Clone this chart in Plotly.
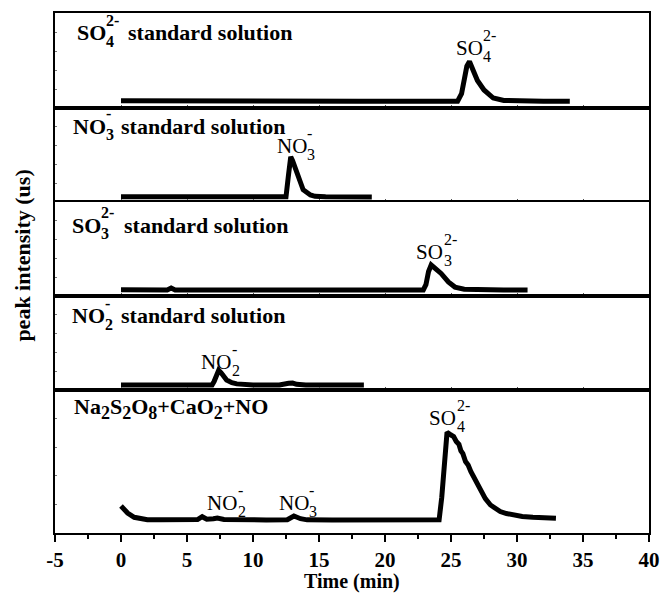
import plotly.graph_objects as go
from plotly.subplots import make_subplots

# ---- chromatogram traces (time in min, signal in relative units per panel) ----
so4_t = [0, 2, 4, 6, 6.3, 6.6, 8, 10, 14, 18, 22, 25.5, 25.8, 26.0, 26.2, 26.4,
         26.75, 27.0, 27.5, 28.2, 29.0, 30, 32, 34]
so4_y = [7.6, 7.4, 7.3, 7.3, 8.0, 7.3, 7.2, 7.2, 7.1, 7.1, 7.0, 7.2, 15, 32, 44, 49,
         37, 29, 19, 10.5, 8, 7.3, 7.1, 7.0]

no3_t = [0, 2, 4, 6, 8, 10, 12, 12.5, 12.7, 12.86, 13.0, 13.35, 13.8, 14.35, 14.7,
         15.5, 17, 19]
no3_y = [5.5, 5.4, 5.3, 5.3, 5.3, 5.2, 5.2, 5.6, 30, 48, 44, 31, 13, 7.5, 6.0,
         5.5, 5.3, 5.2]

so3_t = [0, 2, 3.5, 3.8, 4.1, 6, 10, 14, 18, 22, 22.9, 23.1, 23.3, 23.5, 23.8,
         24.25, 24.8, 25.3, 26.0, 27, 29, 30.8]
so3_y = [6.6, 6.5, 6.5, 8.5, 6.5, 6.4, 6.4, 6.3, 6.3, 6.3, 6.4, 12, 26, 33, 30,
         24, 15, 9.5, 7.2, 6.6, 6.4, 6.3]

no2_t = [0, 2, 4, 6, 6.9, 7.05, 7.25, 7.4, 7.6, 8.0, 8.4, 8.77, 10, 12, 12.7,
         13.0, 13.3, 14, 16, 18.4]
no2_y = [5.4, 5.3, 5.3, 5.3, 5.4, 9, 18, 21, 18, 10.6, 7.8, 6.5, 5.4, 5.3, 7.2,
         7.4, 6.0, 5.4, 5.3, 5.3]

mix_t = [0, 0.25, 0.5, 1.0, 1.5, 2.0, 3, 4, 5, 5.8, 6.15, 6.5, 7.0, 7.3, 7.8,
         9, 11, 12.6, 13.1, 13.6, 14.1, 16, 18, 20, 22, 24.1, 24.3, 24.5, 24.7,
         25.0, 25.2, 25.4, 25.6, 25.75, 25.9, 26.1, 26.3, 26.5, 26.9, 27.24,
         27.6, 27.99, 28.35, 28.73, 29.2, 29.72, 30.4, 31.2, 32.1, 32.95]
mix_y = [18.9, 16.5, 14, 11, 9.8, 9.3, 9.2, 9.2, 9.2, 9.4, 11.4, 9.6, 10.0, 10.5,
         9.5, 9.2, 9.1, 9.3, 11.9, 10.0, 9.2, 9.1, 9.1, 9.1, 9.1, 9.2, 25, 50, 70.5,
         68.5, 67.5, 64, 62, 57.5, 55.5, 50, 47.5, 43, 36, 29, 24, 19.6, 17, 15, 13.6,
         12.6, 11.6, 11, 10.6, 10.3]

x_ticks = [-5, 0, 5, 10, 15, 20, 25, 30, 35, 40]
x_tick_text = ["-5", "0", "5", "10", "15", "20", "25", "30", "35", "40"]

panels = [(so4_t, so4_y), (no3_t, no3_y), (so3_t, so3_y), (no2_t, no2_y), (mix_t, mix_y)]

W, H = 670, 594
ML, MR, MT, MB = 55, 10, 13, 61
PW, PH = W - ML - MR, H - MT - MB

SERIF = "Liberation Serif"

fig = make_subplots(rows=5, cols=1, shared_xaxes=True, vertical_spacing=0,
                    row_heights=[95, 94, 94, 94, 143])

for i, (t, y) in enumerate(panels, start=1):
    fig.add_trace(go.Scatter(x=t, y=y, mode="lines",
                             line=dict(color="black", width=5),
                             showlegend=False, hoverinfo="skip"), row=i, col=1)
    fig.update_yaxes(range=[0, 100], showticklabels=False, showgrid=False,
                     zeroline=False, showline=True, mirror=True, linecolor="black",
                     linewidth=1.5, ticks="inside", ticklen=2, tickwidth=0.8,
                     tickcolor="#777", dtick=20, row=i, col=1)
    last = i == 5
    fig.update_xaxes(range=[-5, 40], showgrid=False, zeroline=False,
                     showline=True, mirror=True, linecolor="black", linewidth=1.5,
                     tickvals=x_ticks, ticktext=x_tick_text,
                     showticklabels=last,
                     ticks="outside" if last else "inside",
                     ticklen=7 if last else 3, tickwidth=1.5 if last else 1,
                     tickcolor="black" if last else "#555",
                     tickfont=dict(family=SERIF, size=21, color="black", weight="bold"),
                     ticklabelstandoff=0,
                     minor=dict(dtick=2.5, ticks="outside" if last else "inside",
                                ticklen=4 if last else 2, tickwidth=1.5 if last else 1,
                                tickcolor="black" if last else "#555"),
                     row=i, col=1)


def px(x):
    return (x - ML) / PW


def py(y):
    return (MT + PH - y) / PH


def note(text, x, y, size=22, anchor="left"):
    fig.add_annotation(text=text, x=px(x), y=py(y), xref="paper", yref="paper",
                       xanchor=anchor, yanchor="middle", showarrow=False,
                       font=dict(family=SERIF, size=size, color="black", weight="bold"))


def ion(base, sup, sub, x, y, sx, plain=False):
    """Chemical symbol with the charge stacked over the atom count."""
    f = dict(family=SERIF, color="black", weight="normal" if plain else "bold")
    fig.add_annotation(text=base, x=px(x), y=py(y), xref="paper", yref="paper",
                       xanchor="left", yanchor="middle", showarrow=False,
                       borderpad=0, font=dict(size=21 if plain else 22, **f))
    fig.add_annotation(text=f"{sup}<br>{sub}", x=px(sx), y=py(y - 2), xref="paper",
                       yref="paper", xanchor="left", yanchor="middle", align="left",
                       borderpad=0, showarrow=False, font=dict(size=16, **f))


# panel headings
ion("SO", "2-", "4", 76, 33, 106)
note("standard solution", 127, 33)
ion("NO", "-", "3", 72, 126, 106)
note("standard solution", 120, 126)
ion("SO", "2-", "3", 71, 225, 101)
note("standard solution", 123, 225)
ion("NO", "-", "2", 71, 316, 105)
note("standard solution", 120, 316)
note('Na<sub><span style="font-size:18px">2</span></sub>S'
     '<sub><span style="font-size:18px">2</span></sub>O'
     '<sub><span style="font-size:18px">8</span></sub>+CaO'
     '<sub><span style="font-size:18px">2</span></sub>+NO', 72, 408)

# peak labels
ion("SO", "2-", "4", 462, 48, 490, plain=True)
ion("NO", "-", "3", 280, 146, 311, plain=True)
ion("SO", "2-", "3", 422, 252, 450, plain=True)
ion("NO", "-", "2", 203, 362, 234, plain=True)
ion("NO", "-", "2", 209, 503, 240, plain=True)
ion("NO", "-", "3", 282, 503, 313, plain=True)
ion("SO", "2-", "4", 435, 418, 463, plain=True)

# axis titles
fig.add_annotation(text="Time (min)", x=px(ML + PW / 2), y=0, xref="paper",
                   yref="paper", yshift=-MB, xanchor="center", yanchor="bottom",
                   showarrow=False, borderpad=0,
                   font=dict(family=SERIF, size=20, color="black", weight="bold"))
fig.add_annotation(text="peak intensity (us)", x=px(21), y=py(256), xref="paper",
                   yref="paper", xanchor="center", yanchor="middle", textangle=-90,
                   showarrow=False,
                   font=dict(family=SERIF, size=22, color="black", weight="bold"))

fig.update_layout(width=W, height=H, margin=dict(l=ML, r=MR, t=MT, b=MB),
                  plot_bgcolor="white", paper_bgcolor="white")

fig.write_html("out.html")
